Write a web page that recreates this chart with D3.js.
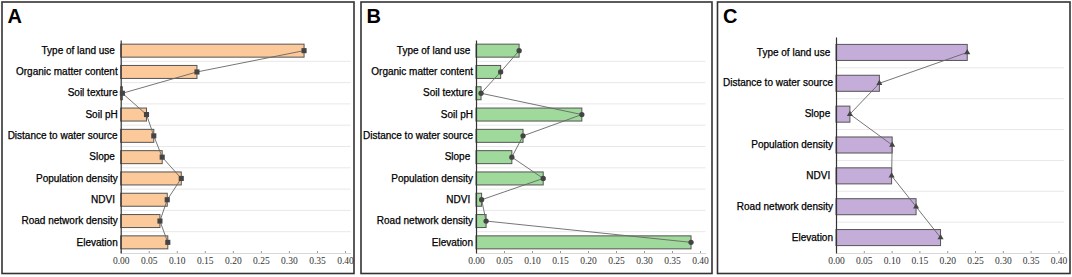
<!DOCTYPE html>
<html>
<head>
<meta charset="utf-8">
<script src="https://cdn.jsdelivr.net/npm/d3@7"></script>
<style>
  body { margin: 0; background: #fff; }
  svg { display: block; }
  .ylab text { white-space: pre; }
</style>
</head>
<body>
<div id="chart"></div>
<script>
// factor names and q values for each panel (top to bottom)
const factorsA = ["Type of land use ", "Organic matter content", "Soil texture", "Soil pH",
    "Distance to water source", "Slope ", "Population density", "NDVI ", "Road network density", "Elevation"];
const valuesA = [0.327, 0.136, 0.003, 0.046, 0.059, 0.074, 0.108, 0.083, 0.070, 0.084];

const factorsB = ["Type of land use ", "Organic matter content", "Soil texture", "Soil pH",
    "Distance to water source", "Slope ", "Population density", "NDVI ", "Road network density", "Elevation"];
const valuesB = [0.077, 0.044, 0.009, 0.189, 0.084, 0.064, 0.120, 0.010, 0.018, 0.384];

const factorsC = ["Type of land use ", "Distance to water source", "Slope ", "Population density",
    "NDVI ", "Road network density", "Elevation"];
const valuesC = [0.236, 0.078, 0.025, 0.101, 0.100, 0.144, 0.188];

// x axis ticks shared by all panels
const xTicks = [0, 0.05, 0.10, 0.15, 0.20, 0.25, 0.30, 0.35, 0.40];
const xMax = 0.41;

const width = 1072, height = 277;

const svg = d3.select("#chart")
    .append("svg")
    .attr("width", width)
    .attr("height", height);

/* layout of the three panels */
const panels = [
    {letter: "A", factors: factorsA, values: valuesA, fill: "#fbc99a", symbol: d3.symbolSquare, symSize: 26,
        box: [2, 2, 354, 273.5], xr: [120.7, 350.6], yr: [40, 253], pad: 0.39},
    {letter: "B", factors: factorsB, values: valuesB, fill: "#9fd99b", symbol: d3.symbolCircle, symSize: 22,
        box: [361, 2, 712, 273.5], xr: [476, 705.6], yr: [40, 253], pad: 0.39},
    {letter: "C", factors: factorsC, values: valuesC, fill: "#c4add9", symbol: d3.symbolTriangle, symSize: 16,
        box: [717.5, 2, 1070, 273.5], xr: [836, 1064], yr: [37, 253], pad: 0.48}
];

panels.forEach(p => {
    const g = svg.append("g").attr("class", "panel-" + p.letter);

    /* panel frame */
    g.append("rect")
        .attr("x", p.box[0])
        .attr("y", p.box[1])
        .attr("width", p.box[2] - p.box[0])
        .attr("height", p.box[3] - p.box[1])
        .attr("fill", "none")
        .attr("stroke", "#333")
        .attr("stroke-width", 1.6);

    /* panel letter */
    g.append("text")
        .attr("x", p.box[0] + 5.5)
        .attr("y", 23.3)
        .attr("font-family", "Liberation Sans, Arial, sans-serif")
        .attr("font-weight", "bold")
        .attr("font-size", 20)
        .attr("fill", "#000")
        .text(p.letter);

    /* scales */
    const x = d3.scaleLinear().domain([0, xMax]).range(p.xr);
    const y = d3.scaleBand()
        .domain(p.factors)
        .range(p.yr)
        .paddingInner(p.pad)
        .paddingOuter(p.pad / 2);

    const data = p.factors.map((f, i) => ({factor: f, value: p.values[i]}));

    /* horizontal grid lines between the bars */
    g.append("g")
        .selectAll("line")
        .data(p.factors.slice(0, -1))
        .join("line")
        .attr("x1", p.xr[0])
        .attr("x2", p.xr[1])
        .attr("y1", d => y(d) + y.bandwidth() / 2 + y.step() / 2)
        .attr("y2", d => y(d) + y.bandwidth() / 2 + y.step() / 2)
        .attr("stroke", "#e8e8e8")
        .attr("stroke-width", 1);

    /* bars */
    g.append("g")
        .selectAll("rect")
        .data(data)
        .join("rect")
        .attr("x", x(0))
        .attr("y", d => y(d.factor))
        .attr("width", d => x(d.value) - x(0))
        .attr("height", y.bandwidth())
        .attr("fill", p.fill)
        .attr("stroke", "#555")
        .attr("stroke-width", 1);

    /* x axis */
    const xAxis = d3.axisBottom(x)
        .tickValues(xTicks)
        .tickFormat(d3.format(".2f"))
        .tickSizeInner(-2)
        .tickSizeOuter(0)
        .tickPadding(4.5);

    const xGroup = g.append("g")
        .attr("transform", `translate(0, ${p.yr[1]})`)
        .call(xAxis);
    xGroup.select(".domain").attr("stroke", "#d8d8d8");
    xGroup.selectAll(".tick line").attr("stroke", "#999");
    xGroup.selectAll("text")
        .attr("font-family", "Liberation Serif, Times New Roman, serif")
        .attr("font-size", 9.5)
        .attr("fill", "#333");

    /* y axis with factor names */
    const yAxis = d3.axisLeft(y).tickSize(0).tickPadding(3);
    const yGroup = g.append("g")
        .attr("class", "ylab")
        .attr("transform", `translate(${p.xr[0]}, 0)`)
        .call(yAxis);
    yGroup.select(".domain").attr("stroke", "#333").attr("stroke-width", 1.2);
    yGroup.selectAll("text")
        .attr("font-family", "Liberation Sans, Arial, sans-serif")
        .attr("font-size", 10)
        .attr("fill", "#000")
        .attr("stroke", "#000")
        .attr("stroke-width", 0.25);

    /* line joining the bar ends */
    const line = d3.line()
        .x(d => x(d.value))
        .y(d => y(d.factor) + y.bandwidth() / 2);

    g.append("path")
        .datum(data)
        .attr("d", line)
        .attr("fill", "none")
        .attr("stroke", "#666")
        .attr("stroke-width", 0.9);

    /* markers */
    g.append("g")
        .selectAll("path")
        .data(data)
        .join("path")
        .attr("transform", d => `translate(${x(d.value)}, ${y(d.factor) + y.bandwidth() / 2})`)
        .attr("d", d3.symbol().type(p.symbol).size(p.symSize))
        .attr("fill", "#444");
});
</script>
</body>
</html>
